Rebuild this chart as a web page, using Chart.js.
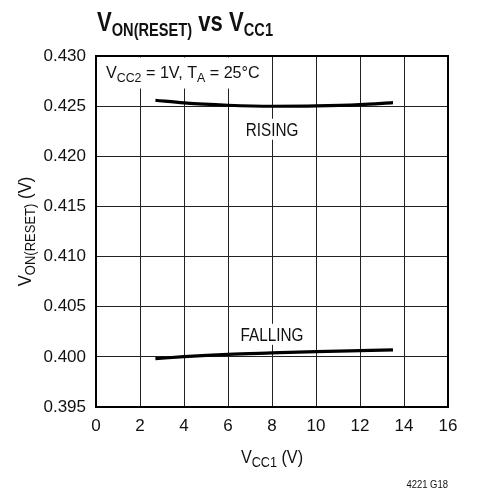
<!DOCTYPE html>
<html><head><meta charset="utf-8">
<script src="https://cdn.jsdelivr.net/npm/chart.js@4/dist/chart.umd.min.js"></script>
<style>html,body{margin:0;padding:0;background:#fff}#wrap{width:479px;height:491px;position:relative}</style>
</head><body><div id="wrap"><canvas id="c" width="479" height="491"></canvas></div>
<script>
const vcc1Rising = [2.7, 4, 6, 8, 10, 12, 13.5];
const risingValues = [0.42559, 0.42532, 0.42509, 0.42499, 0.42502, 0.42515, 0.42535];
const vcc1Falling = [2.7, 4, 6, 8, 10, 12, 13.5];
const fallingValues = [0.39982, 0.40002, 0.40025, 0.40039, 0.40052, 0.40062, 0.40069];
const xTicks = [0, 2, 4, 6, 8, 10, 12, 14, 16];
const yTicks = [0.395, 0.400, 0.405, 0.410, 0.415, 0.420, 0.425, 0.430];
const seriesLabels = ['RISING', 'FALLING'];
const titleParts = [['V', 'n'], ['ON(RESET)', 's'], [' vs ', 'n'], ['V', 'n'], ['CC1', 's']];
const yTitleParts = [['V', 'n'], ['ON(RESET)', 's'], [' (V)', 'n']];
const xTitleParts = [['V', 'n'], ['CC1', 's'], [' (V)', 'n']];
const noteParts = [['V', 'n'], ['CC2', 's'], [' = 1V, T', 'n'], ['A', 's'], [' = 25°C', 'n']];
const footer = '4221 G18';

const FONT = '"Liberation Sans Narrow", "Arial Narrow", "Liberation Sans", Arial, sans-serif';

// draws text runs with subscripts, horizontally condensed by factor k
function drawParts(ctx, parts, x, y, size, subSize, subShift, weight, align, k) {
  const f = (s) => weight + ' ' + s + 'px ' + FONT;
  let total = 0;
  parts.forEach(p => { ctx.font = f(p[1] === 's' ? subSize : size); total += ctx.measureText(p[0]).width; });
  ctx.save();
  ctx.translate(x, y);
  ctx.scale(k, 1);
  let cx = align === 'center' ? -total / 2 : (align === 'right' ? -total : 0);
  ctx.textAlign = 'left'; ctx.textBaseline = 'alphabetic';
  parts.forEach(p => {
    const sub = p[1] === 's';
    ctx.font = f(sub ? subSize : size);
    ctx.fillText(p[0], cx, sub ? subShift : 0);
    cx += ctx.measureText(p[0]).width;
  });
  ctx.restore();
  return total * k;
}

const textPlugin = {
  id: 'texts',
  afterDatasetsDraw(chart) {
    const ctx = chart.ctx, xs = chart.scales.x, ys = chart.scales.y, a = chart.chartArea;
    ctx.save();
    ctx.fillStyle = '#111';
    ctx.save(); ctx.fillStyle = '#fff';
    ctx.fillRect(a.left + 1.5, a.top + 1.5, 168, 31);
    ctx.restore();
    drawParts(ctx, noteParts, a.left + 10, a.top + 22, 17, 13, 3.5, 'normal', 'left', 0.95);
    const lx = xs.getPixelForValue(8);
    [[seriesLabels[0], 0.42205], [seriesLabels[1], 0.4016]].forEach(([t, v]) => {
      const py = ys.getPixelForValue(v);
      ctx.save(); ctx.fillStyle = '#fff'; ctx.fillRect(lx - 36, py - 17, 72, 21); ctx.restore();
      drawParts(ctx, [[t, 'n']], lx, py, 18, 18, 0, 'normal', 'center', 0.85);
    });
    ctx.restore();
  },
  afterDraw(chart) {
    const ctx = chart.ctx, a = chart.chartArea;
    ctx.save();
    ctx.fillStyle = '#111';
    drawParts(ctx, titleParts, a.left + 1, 31, 28, 18.5, 4.5, 'bold', 'left', 0.79);
    drawParts(ctx, xTitleParts, (a.left + a.right) / 2, 463, 18, 14, 3.5, 'normal', 'center', 0.9);
    ctx.save();
    ctx.translate(31, (a.top + a.bottom) / 2);
    ctx.rotate(-Math.PI / 2);
    drawParts(ctx, yTitleParts, 0, 0, 18, 14, 3.5, 'normal', 'center', 0.93);
    ctx.restore();
    drawParts(ctx, [[footer, 'n']], a.right, 488, 11, 11, 0, 'normal', 'right', 0.86);
    ctx.restore();
  }
};

const toPts = (xs, ys) => xs.map((x, i) => ({ x: x, y: ys[i] }));

new Chart(document.getElementById('c'), {
  type: 'line',
  data: {
    datasets: [
      { label: seriesLabels[0], data: toPts(vcc1Rising, risingValues), borderColor: '#000', borderWidth: 3.2, pointRadius: 0, cubicInterpolationMode: 'monotone', fill: false },
      { label: seriesLabels[1], data: toPts(vcc1Falling, fallingValues), borderColor: '#000', borderWidth: 3.2, pointRadius: 0, cubicInterpolationMode: 'monotone', fill: false }
    ]
  },
  options: {
    responsive: false,
    animation: false,
    devicePixelRatio: 1,
    layout: { padding: { left: 0, top: 56, right: 31, bottom: 0 } },
    plugins: { legend: { display: false }, tooltip: { enabled: false }, title: { display: false } },
    scales: {
      x: {
        type: 'linear', min: 0, max: 16,
        afterBuildTicks: (s) => { s.ticks = xTicks.map(v => ({ value: v })); },
        afterFit: (s) => { s.height = 84; },
        grid: { color: '#222', lineWidth: 1, drawTicks: false },
        border: { display: true, color: '#000', width: 2 },
        ticks: { color: '#111', font: { family: FONT, size: 17 }, padding: 9, maxRotation: 0, autoSkip: false }
      },
      y: {
        type: 'linear', min: 0.395, max: 0.430,
        afterBuildTicks: (s) => { s.ticks = yTicks.map(v => ({ value: v })); },
        afterFit: (s) => { s.width = 96; },
        grid: { color: '#222', lineWidth: 1, drawTicks: false },
        border: { display: true, color: '#000', width: 2 },
        ticks: { color: '#111', font: { family: FONT, size: 17 }, padding: 10, autoSkip: false, callback: (v) => v.toFixed(3) }
      }
    }
  },
  plugins: [textPlugin, {
    id: 'frame',
    afterDatasetsDraw(chart) {
      const ctx = chart.ctx, a = chart.chartArea;
      ctx.save(); ctx.strokeStyle = '#000'; ctx.lineWidth = 2;
      ctx.strokeRect(a.left, a.top, a.right - a.left, a.bottom - a.top);
      ctx.restore();
    }
  }]
});
</script></body></html>
